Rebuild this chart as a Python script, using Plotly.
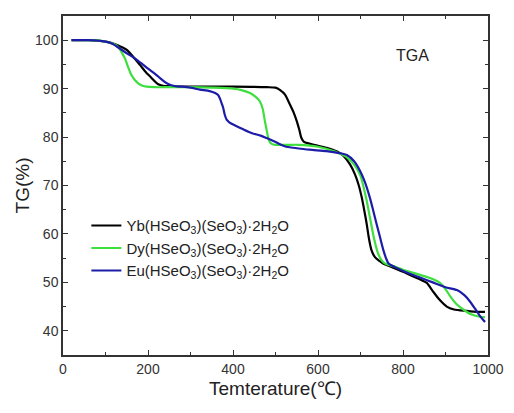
import plotly.graph_objects as go

# Yb(HSeO3)(SeO3)·2H2O  (black)
t_yb = [20, 60, 100, 118, 135, 150, 165, 181, 195, 205, 215, 224, 235, 250, 300, 400, 480, 500,
        511, 522, 534, 543, 550, 556, 561, 567, 573, 590, 620, 645, 660, 675, 687, 696, 703, 709,
        714.5, 720, 726, 734, 745, 753, 770, 800, 830, 845, 856, 870, 885, 903, 920, 950, 975, 993]
tg_yb = [100, 100, 99.7, 99.3, 98.7, 98.0, 96.6, 94.9, 93.4, 92.5, 91.6, 90.9, 90.6, 90.5, 90.4, 90.4,
         90.3, 90.2, 89.7, 88.8, 86.7, 85.0, 83.3, 81.5, 79.8, 79.0, 78.8, 78.4, 77.8, 77.0, 76.1,
         74.4, 72.3, 70.0, 67.5, 64.8, 62.1, 59.0, 56.6, 55.2, 54.4, 53.9, 53.3, 52.2, 51.0, 50.4,
         49.9, 48.2, 46.5, 45.0, 44.4, 44.1, 43.9, 43.9]

# Dy(HSeO3)(SeO3)·2H2O  (green)
t_dy = [20, 60, 100, 120, 130, 138, 146, 153, 161, 169, 177, 187, 197, 215, 250, 300, 350, 400, 420,
        440, 452, 463, 470, 475, 479, 483, 487, 491, 500, 530, 555, 600, 640, 665, 685, 700, 713,
        722, 732, 742, 752, 760, 775, 800, 830, 860, 887, 900, 912, 925, 942, 960, 975, 993]
tg_dy = [100, 100, 99.7, 99.2, 98.6, 97.5, 96.2, 94.5, 92.8, 91.8, 91.1, 90.6, 90.4, 90.3, 90.3, 90.3,
         90.2, 90.0, 89.7, 89.1, 88.4, 87.4, 85.8, 83.3, 81.5, 79.8, 78.9, 78.6, 78.4, 78.4, 78.4,
         78.0, 77.0, 76.0, 74.3, 72.0, 67.5, 63.5, 59.0, 55.8, 54.3, 53.8, 53.4, 52.6, 51.8, 51.0,
         49.9, 48.6, 47.0, 45.6, 44.4, 43.4, 43.0, 42.8]

# Eu(HSeO3)(SeO3)·2H2O  (blue)
t_eu = [20, 60, 100, 115, 130, 150, 170, 189, 205, 220, 232, 244, 255, 265, 280, 300, 322, 345, 358,
        365, 370, 374, 377, 381, 385, 392, 405, 424, 445, 465, 479, 495, 511, 525, 542, 580, 620,
        650, 668, 685, 699, 710, 722, 730, 738, 746, 754, 760, 766, 780, 810, 840, 870, 900, 927,
        945, 958, 970, 980, 993]
tg_eu = [100, 100, 99.7, 99.3, 98.5, 97.3, 96.2, 94.9, 93.8, 92.8, 91.9, 91.1, 90.7, 90.5, 90.4, 90.2,
         89.8, 89.5, 89.1, 88.7, 87.8, 86.8, 86.0, 84.5, 83.6, 83.0, 82.4, 81.6, 80.8, 80.3, 79.8,
         79.2, 78.5, 78.0, 77.8, 77.4, 77.1, 76.7, 76.3, 75.0, 73.0, 70.8, 67.5, 64.8, 62.0, 59.3,
         56.6, 55.0, 53.9, 53.2, 52.0, 51.0, 50.0, 49.0, 48.4, 47.3, 46.0, 44.5, 43.2, 41.8]

series = [
    ("Yb(HSeO<sub>3</sub>)(SeO<sub>3</sub>)·2H<sub>2</sub>O", t_yb, tg_yb, "#000000"),
    ("Dy(HSeO<sub>3</sub>)(SeO<sub>3</sub>)·2H<sub>2</sub>O", t_dy, tg_dy, "#3ddf3d"),
    ("Eu(HSeO<sub>3</sub>)(SeO<sub>3</sub>)·2H<sub>2</sub>O", t_eu, tg_eu, "#1c1ca8"),
]

fig = go.Figure()
for name, t, tg, color in series:
    fig.add_trace(go.Scatter(x=t, y=tg, name=name, mode="lines",
                             line=dict(color=color, width=2.2, shape="spline", smoothing=0.7)))

axis_common = dict(
    showline=True, linecolor="#333333", linewidth=1.5, mirror="ticks",
    ticks="inside", ticklen=5, tickwidth=1.3, tickcolor="#333333",
    showgrid=False, zeroline=False,
    tickfont=dict(family="Liberation Sans, Arial", size=14, color="#333333"),
)

fig.update_xaxes(range=[0, 1000], dtick=200,
                 minor=dict(dtick=100, ticks="inside", ticklen=3, tickcolor="#333333"),
                 title=dict(text="Temterature(℃)", font=dict(family="Liberation Sans, Arial", size=19, color="#222222"),
                            standoff=6),
                 **axis_common)
fig.update_yaxes(range=[35, 105], dtick=10,
                 minor=dict(dtick=5, ticks="inside", ticklen=3, tickcolor="#333333"),
                 title=dict(text="TG(%)", font=dict(family="Liberation Sans, Arial", size=19, color="#222222"),
                            standoff=0),
                 **axis_common)

fig.add_annotation(text="TGA", x=0.866, y=0.915, xref="paper", yref="paper", showarrow=False,
                   font=dict(family="Liberation Sans, Arial", size=16, color="#222222"))

# the page body adds an 8px margin, so the figure is a little smaller than the window
fig.update_layout(
    width=506, height=405,
    margin=dict(l=55, r=26, t=6, b=58),
    paper_bgcolor="white", plot_bgcolor="white",
    legend=dict(x=0.055, y=0.43, xanchor="left", yanchor="top", bgcolor="rgba(0,0,0,0)",
                font=dict(family="Liberation Sans, Arial", size=15, color="#222222"),
                tracegroupgap=0),
)

fig.write_html("out.html")
